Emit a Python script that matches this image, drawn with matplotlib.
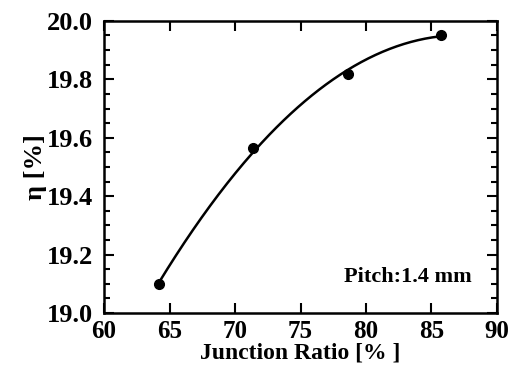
import matplotlib
matplotlib.use("Agg")
import matplotlib.pyplot as plt
import numpy as np
from matplotlib.ticker import MultipleLocator, FormatStrFormatter

# values
junction_ratio = [64.2, 71.4, 78.6, 85.7]
efficiency = [19.10, 19.565, 19.818, 19.952]

plt.rcParams["font.family"] = ["Liberation Serif", "DejaVu Serif"]
plt.rcParams["font.weight"] = "bold"

fig = plt.figure(figsize=(5.15, 3.73), dpi=100)
ax = fig.add_axes([0.202, 0.161, 0.763, 0.783])

# smooth trend curve through the measured points
coef = np.polyfit(junction_ratio, efficiency, 2)
xs = np.linspace(junction_ratio[0], junction_ratio[-1], 200)
ax.plot(xs, np.polyval(coef, xs), color="black", lw=1.8)
ax.plot(junction_ratio, efficiency, "o", color="black", ms=7)

ax.set_xlim(60, 90)
ax.set_ylim(19.0, 20.0)
ax.xaxis.set_major_locator(MultipleLocator(5))
ax.yaxis.set_major_locator(MultipleLocator(0.2))
ax.yaxis.set_minor_locator(MultipleLocator(0.05))
ax.yaxis.set_major_formatter(FormatStrFormatter("%.1f"))

ax.tick_params(which="both", direction="in", top=True, right=True, width=1.5, labelsize=19)
ax.tick_params(axis="y", pad=8)
ax.tick_params(axis="x", pad=5, labelsize=18)
ax.tick_params(which="major", length=7)
ax.tick_params(which="minor", length=4)
ax.tick_params(axis="x", which="minor", bottom=False, top=False)
for spine in ax.spines.values():
    spine.set_linewidth(1.8)

ax.set_xlabel("Junction Ratio [% ]", fontsize=17, fontweight="bold", labelpad=0)
ax.set_ylabel("η [%]", fontsize=19, fontweight="bold", labelpad=0)
ax.text(0.935, 0.123, "Pitch:1.4 mm", transform=ax.transAxes, ha="right", va="center",
        fontsize=16, fontweight="bold")

fig.savefig("out.png", dpi=100)
